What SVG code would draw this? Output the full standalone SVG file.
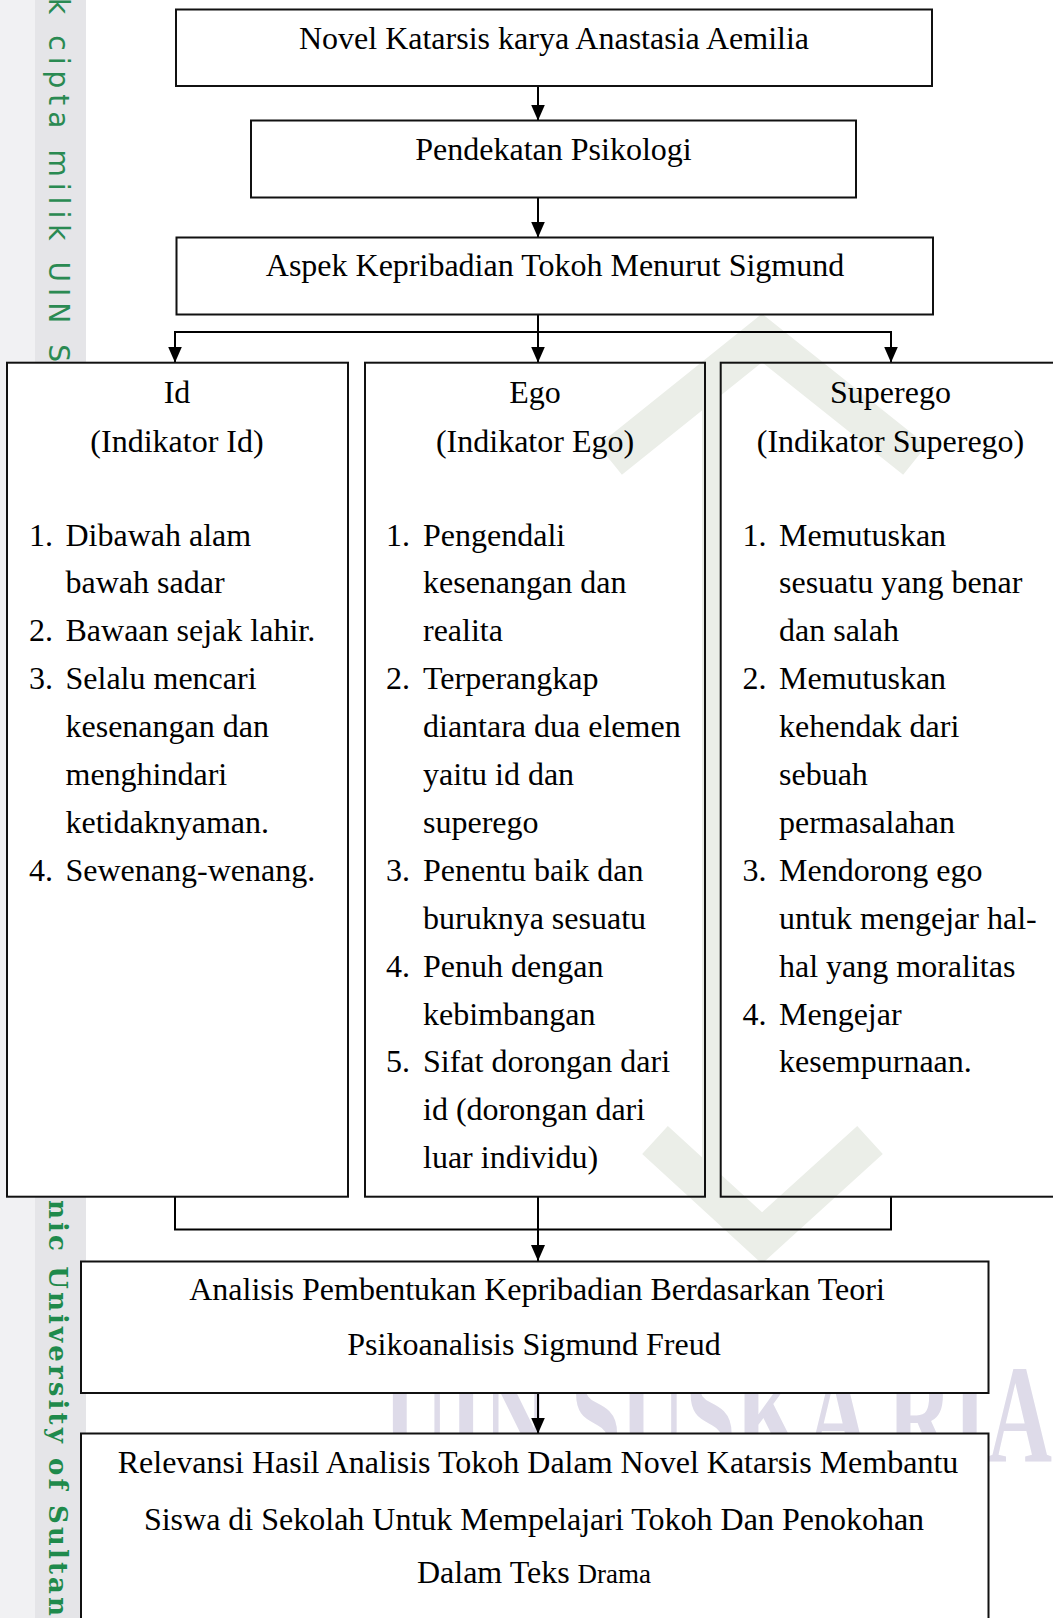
<svg xmlns="http://www.w3.org/2000/svg" width="1053" height="1618" viewBox="0 0 1053 1618">
<defs>
<style>
.box{fill:#fff;stroke:#111;stroke-width:2}
.open{fill:none;stroke:#111;stroke-width:2}
.t{font-family:"Liberation Serif","Times New Roman",serif;font-size:32px;fill:#000}
.c{text-anchor:middle}
.ln{fill:none;stroke:#000;stroke-width:2}
.wm{fill:none;stroke:#ebeee8;stroke-width:38;stroke-linejoin:miter}
</style>
<marker id="ah" markerUnits="userSpaceOnUse" markerWidth="16" markerHeight="14" viewBox="0 0 16 14" refX="16" refY="7" orient="auto">
<path d="M0,0 L16,7 L0,14 Z" fill="#000"/>
</marker>
</defs>
<rect x="0" y="0" width="1053" height="1618" fill="#fff"/>
<g id="watermark">
<rect x="0" y="0" width="35" height="1618" fill="#f1f1f3"/>
<rect x="35" y="0" width="51" height="1618" fill="#e5e5e8"/>
<text transform="translate(49,-2) rotate(90)" font-family="DejaVu Sans,sans-serif" font-size="28" fill="#2a8a52" textLength="364" lengthAdjust="spacing">k cipta milik UIN S</text>
<text transform="translate(49,1200) rotate(90)" font-family="DejaVu Serif,serif" font-weight="bold" font-size="26" fill="#1f8a4c" textLength="416" lengthAdjust="spacing">nic University of Sultan</text>
<text x="384" y="1462" font-family="Liberation Serif,serif" font-weight="bold" font-size="140" fill="#dedbe9" textLength="668" lengthAdjust="spacingAndGlyphs">UIN SUSKA RIA</text>
<polyline class="wm" points="610,460 762,338 915,460"/>
<rect x="702" y="362" width="18" height="835" fill="#ebeee8"/>
<polyline class="wm" points="655,1140 762,1238 870,1140"/>
</g>
<g id="connectors">
<line class="ln" x1="538" y1="86" x2="538" y2="120.5" marker-end="url(#ah)"/>
<line class="ln" x1="538" y1="197.5" x2="538" y2="237.5" marker-end="url(#ah)"/>
<line class="ln" x1="538" y1="314.5" x2="538" y2="332"/>
<line class="ln" x1="174" y1="332" x2="892" y2="332"/>
<line class="ln" x1="175" y1="332" x2="175" y2="362.5" marker-end="url(#ah)"/>
<line class="ln" x1="538" y1="332" x2="538" y2="362.5" marker-end="url(#ah)"/>
<line class="ln" x1="891" y1="332" x2="891" y2="362.5" marker-end="url(#ah)"/>
<polyline class="ln" points="175,1197 175,1229.5 891,1229.5 891,1197"/>
<line class="ln" x1="538" y1="1197" x2="538" y2="1261" marker-end="url(#ah)"/>
<line class="ln" x1="538" y1="1393" x2="538" y2="1433.5" marker-end="url(#ah)"/>
</g>
<g id="novel">
<rect class="box" x="176" y="9.5" width="756" height="76.5"/>
<text class="t c" x="554" y="49">Novel Katarsis karya Anastasia Aemilia</text>
</g>
<g id="pendekatan">
<rect class="box" x="251" y="120.5" width="605" height="77"/>
<text class="t c" x="553.5" y="160">Pendekatan Psikologi</text>
</g>
<g id="aspek">
<rect class="box" x="176.5" y="237.5" width="756.5" height="77"/>
<text class="t c" x="555" y="276">Aspek Kepribadian Tokoh Menurut Sigmund</text>
</g>
<g id="id">
<rect class="box" x="7" y="362.7" width="341" height="834"/>
<text class="t c" x="177" y="403.3">Id</text>
<text class="t c" x="177" y="451.7">(Indikator Id)</text>
<text class="t" x="29" y="545.5">1.</text><text class="t" x="65.5" y="545.5">Dibawah alam</text>
<text class="t" x="65.5" y="593.4">bawah sadar</text>
<text class="t" x="29" y="641.3">2.</text><text class="t" x="65.5" y="641.3">Bawaan sejak lahir.</text>
<text class="t" x="29" y="689.2">3.</text><text class="t" x="65.5" y="689.2">Selalu mencari</text>
<text class="t" x="65.5" y="737.1">kesenangan dan</text>
<text class="t" x="65.5" y="785">menghindari</text>
<text class="t" x="65.5" y="832.9">ketidaknyaman.</text>
<text class="t" x="29" y="880.8">4.</text><text class="t" x="65.5" y="880.8">Sewenang-wenang.</text>
</g>
<g id="ego">
<rect class="open" x="365" y="362.7" width="340" height="834"/>
<text class="t c" x="535" y="403.3">Ego</text>
<text class="t c" x="535" y="451.7">(Indikator Ego)</text>
<text class="t" x="386" y="545.5">1.</text><text class="t" x="423" y="545.5">Pengendali</text>
<text class="t" x="423" y="593.4">kesenangan dan</text>
<text class="t" x="423" y="641.3">realita</text>
<text class="t" x="386" y="689.2">2.</text><text class="t" x="423" y="689.2">Terperangkap</text>
<text class="t" x="423" y="737.1">diantara dua elemen</text>
<text class="t" x="423" y="785">yaitu id dan</text>
<text class="t" x="423" y="832.9">superego</text>
<text class="t" x="386" y="880.8">3.</text><text class="t" x="423" y="880.8">Penentu baik dan</text>
<text class="t" x="423" y="928.7">buruknya sesuatu</text>
<text class="t" x="386" y="976.6">4.</text><text class="t" x="423" y="976.6">Penuh dengan</text>
<text class="t" x="423" y="1024.5">kebimbangan</text>
<text class="t" x="386" y="1072.4">5.</text><text class="t" x="423" y="1072.4">Sifat dorongan dari</text>
<text class="t" x="423" y="1120.3">id (dorongan dari</text>
<text class="t" x="423" y="1168.2">luar individu)</text>
</g>
<g id="superego">
<rect class="open" x="720.7" y="362.7" width="345" height="834"/>
<text class="t c" x="890.5" y="403.3">Superego</text>
<text class="t c" x="890.5" y="451.7">(Indikator Superego)</text>
<text class="t" x="742.5" y="545.5">1.</text><text class="t" x="779" y="545.5">Memutuskan</text>
<text class="t" x="779" y="593.4">sesuatu yang benar</text>
<text class="t" x="779" y="641.3">dan salah</text>
<text class="t" x="742.5" y="689.2">2.</text><text class="t" x="779" y="689.2">Memutuskan</text>
<text class="t" x="779" y="737.1">kehendak dari</text>
<text class="t" x="779" y="785">sebuah</text>
<text class="t" x="779" y="832.9">permasalahan</text>
<text class="t" x="742.5" y="880.8">3.</text><text class="t" x="779" y="880.8">Mendorong ego</text>
<text class="t" x="779" y="928.7">untuk mengejar hal-</text>
<text class="t" x="779" y="976.6">hal yang moralitas</text>
<text class="t" x="742.5" y="1024.5">4.</text><text class="t" x="779" y="1024.5">Mengejar</text>
<text class="t" x="779" y="1072.4">kesempurnaan.</text>
</g>
<g id="analisis">
<rect class="box" x="81" y="1261.5" width="907.5" height="131.5"/>
<text class="t c" x="537" y="1300">Analisis Pembentukan Kepribadian Berdasarkan Teori</text>
<text class="t c" x="534" y="1355">Psikoanalisis Sigmund Freud</text>
</g>
<g id="relevansi">
<rect class="box" x="81" y="1433.5" width="907.5" height="200"/>
<text class="t c" x="538" y="1473.3">Relevansi Hasil Analisis Tokoh Dalam Novel Katarsis Membantu</text>
<text class="t c" x="534" y="1530">Siswa di Sekolah Untuk Mempelajari Tokoh Dan Penokohan</text>
<text class="t c" x="534" y="1583.3">Dalam Teks <tspan font-size="27">Drama</tspan></text>
</g>
</svg>
